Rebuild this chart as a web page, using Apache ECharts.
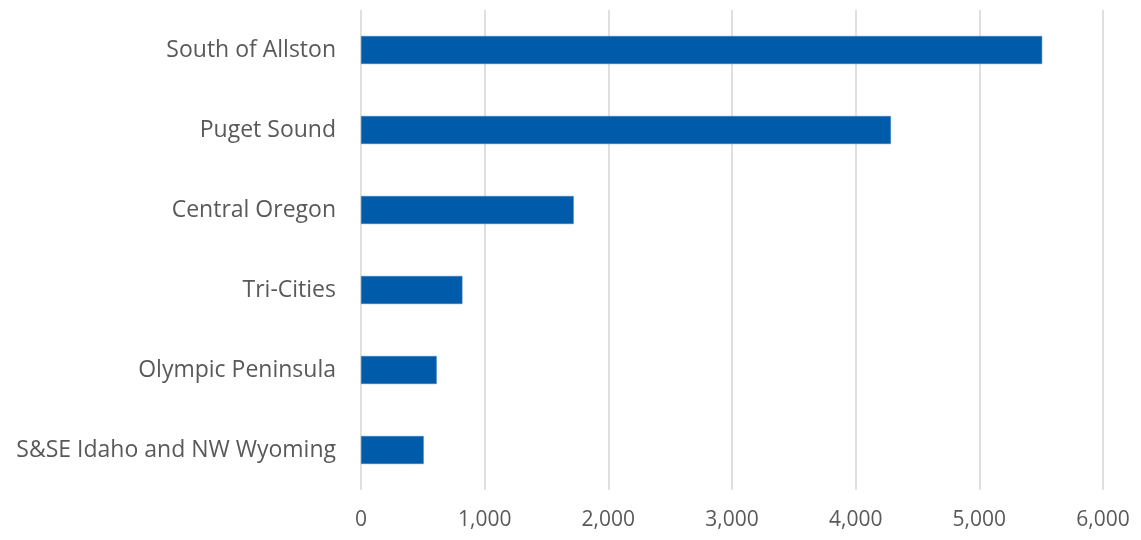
<!DOCTYPE html>
<html>
<head>
<meta charset="utf-8">
<script src="https://cdn.jsdelivr.net/npm/echarts@6/dist/echarts.min.js"></script>
<style>
  html, body { margin: 0; padding: 0; background: #fff; }
  #main { width: 1141px; height: 540px; }
</style>
</head>
<body>
<div id="main"></div>
<script>
// regions, bottom to top as drawn on the category axis
var regions = ['S&SE Idaho and NW Wyoming', 'Olympic Peninsula', 'Tri-Cities', 'Central Oregon', 'Puget Sound', 'South of Allston'];
var counts = [507, 612, 820, 1720, 4285, 5508];
var xTicks = [0, 1000, 2000, 3000, 4000, 5000, 6000];

var chart = echarts.init(document.getElementById('main'));

var option = {
    animation: false,
    grid: {
        left: 361,
        right: 38,
        top: 10,
        bottom: 50
    },
    xAxis: {
        type: 'value',
        min: xTicks[0],
        max: xTicks[xTicks.length - 1],
        interval: 1000,
        axisLine: { show: false },
        axisTick: { show: false },
        splitLine: {
            lineStyle: { color: '#d4d4d4', width: 1.5 }
        },
        axisLabel: {
            color: '#595959',
            fontFamily: 'Open Sans',
            fontSize: 21,
            margin: 20,
            formatter: function (v) {
                return v.toLocaleString('en-US');
            }
        }
    },
    yAxis: {
        type: 'category',
        data: regions,
        axisLine: { show: false },
        axisTick: { show: false },
        axisLabel: {
            color: '#595959',
            fontFamily: 'Open Sans',
            fontSize: 23,
            margin: 25
        }
    },
    series: [{
        type: 'bar',
        data: counts,
        barWidth: '35%',
        itemStyle: {
            color: '#005BAA',
            borderColor: '#3a7fc0',
            borderWidth: 0.5
        }
    }]
};

chart.setOption(option);
</script>
</body>
</html>
